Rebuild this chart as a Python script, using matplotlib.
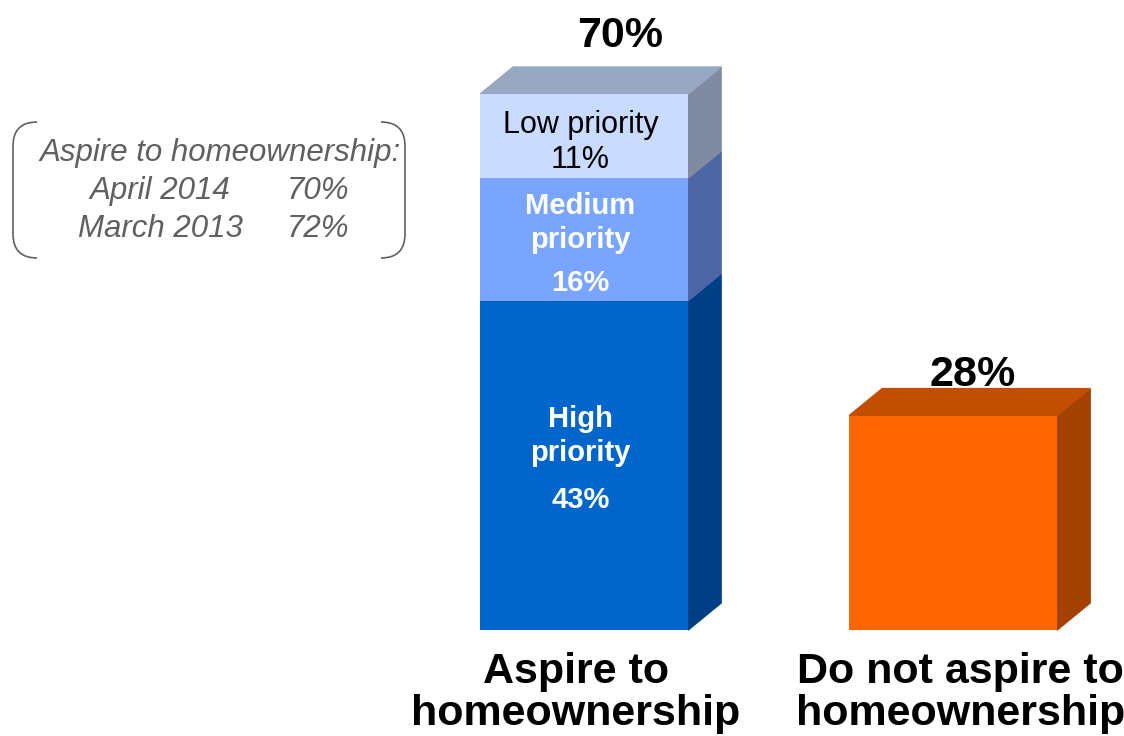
import matplotlib.pyplot as plt
from matplotlib.patches import Polygon
from matplotlib.path import Path
from matplotlib.patches import PathPatch

plt.rcParams['font.family'] = ['Liberation Sans', 'DejaVu Sans']

categories = ['Aspire to\nhomeownership', 'Do not aspire to\nhomeownership']
segment_names = ['High\npriority', 'Medium\npriority', 'Low priority']
segment_values = [43, 16, 11]
total_values = [70, 28]
note_rows = [('April 2014', '70%'), ('March 2013', '72%')]

front_colors = ['#0066CC', '#7AA5FF', '#C9DBFF']
side_colors = ['#003F84', '#4C66A6', '#808AA2']
top_color_low = '#98A7C2'
orange_front, orange_top, orange_side = '#FF6600', '#C24E00', '#A34100'

fig = plt.figure(figsize=(11.24, 7.36), dpi=100)
ax = fig.add_axes([0, 0, 1, 1])
ax.set_xlim(-1.583, 1.463)
ax.set_ylim(-13.84, 82.28)
ax.axis('off')

width = 0.5637
dx, dy = 0.0894, 3.53


def box3d(x, bottom, h, front, side, top=None):
    ax.bar(x, h, width=width, bottom=bottom, color=front, zorder=2)
    r = x + width / 2
    l = x - width / 2
    ax.add_patch(Polygon([(r, bottom), (r + dx, bottom + dy), (r + dx, bottom + h + dy), (r, bottom + h)],
                         closed=True, color=side, zorder=1))
    if top is not None:
        ax.add_patch(Polygon([(l, bottom + h), (l + dx, bottom + h + dy), (r + dx, bottom + h + dy), (r, bottom + h)],
                             closed=True, color=top, zorder=1))


# offsets of name / percent labels from the segment middle
name_off = [3.8, 2.1, 1.45]
pct_off = [-4.5, -5.7, -3.1]

bottom = 0
for i, v in enumerate(segment_values):
    box3d(0, bottom, v, front_colors[i], side_colors[i], top_color_low if i == 2 else None)
    mid = bottom + v / 2
    if i == 2:
        kw = dict(fontsize=22, color='black')
    else:
        kw = dict(fontsize=21, color='white', fontweight='bold')
    ax.text(-0.01, mid + name_off[i], segment_names[i], ha='center', va='center',
            linespacing=1.27, **kw)
    ax.text(-0.01, mid + pct_off[i], f'{v}%', ha='center', va='center', **kw)
    bottom += v

box3d(1, 0, total_values[1], orange_front, orange_side, orange_top)

label_dx = [0.098, 0.054]
label_dy = [dy + 1.4, dy - 0.8]
for i, t in enumerate(total_values):
    ax.text(i + label_dx[i], t + label_dy[i], f'{t}%', ha='center', va='bottom',
            fontsize=31, fontweight='bold')

cat_dx = [-0.022, 0.02]
for i, c in enumerate(categories):
    ax.text(i + cat_dx[i], -2.9, c, ha='center', va='top',
            fontsize=31, fontweight='bold', linespacing=1.07)

# note with brackets
gray = '#606060'
fig.text(220 / 1124, 1 - 153 / 736, 'Aspire to homeownership:', ha='center', va='center',
         fontsize=22.5, style='italic', color=gray)
for j, (lab, val) in enumerate(note_rows):
    yy = 1 - (191 + 38 * j) / 736
    fig.text(160 / 1124, yy, lab, ha='center', va='center', fontsize=22.5, style='italic', color=gray)
    fig.text(318 / 1124, yy, val, ha='center', va='center', fontsize=22.5, style='italic', color=gray)


def bracket(x0, x1, y0, y1):
    # x0 is the vertical line, x1 the end of the arms (pixels)
    r = 24
    s = 1 if x1 > x0 else -1
    verts = [(x1, y0), (x0 + s * r, y0), (x0, y0), (x0, y0 + r),
             (x0, y1 - r), (x0, y1), (x0 + s * r, y1), (x1, y1)]
    codes = [Path.MOVETO, Path.LINETO, Path.CURVE3, Path.CURVE3,
             Path.LINETO, Path.CURVE3, Path.CURVE3, Path.LINETO]
    verts = [(vx / 1124, 1 - vy / 736) for vx, vy in verts]
    fig.patches.append(PathPatch(Path(verts, codes), transform=fig.transFigure,
                                 fill=False, edgecolor=gray, lw=1.2))


bracket(13, 37, 122, 258)
bracket(405, 381, 122, 258)

fig.savefig('out.png', dpi=100)
